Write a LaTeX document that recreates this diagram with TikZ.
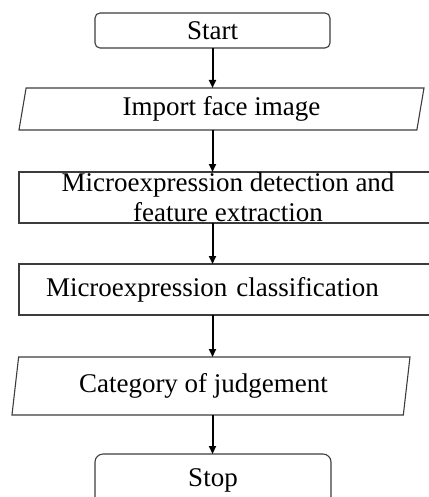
\documentclass[tikz,border=0pt]{standalone}
\usepackage{fontspec}
\setmainfont{Liberation Serif}
\usetikzlibrary{arrows.meta,positioning,shapes.geometric}

\begin{document}
\begin{tikzpicture}[
    x=1pt, y=1pt,
    font=\fontsize{27}{28}\selectfont,
    >={Triangle[width=7pt,length=8pt]},
    terminal/.style={
        draw=boxline,
        rounded corners=5pt,
        minimum width=235pt,
        minimum height=35pt,
        inner sep=0pt,
        outer sep=0pt,
        line width=1.1pt
    },
    iobox/.style={
        draw=boxline,
        trapezium,
        trapezium stretches body,
        trapezium left angle=74,
        trapezium right angle=106,
        minimum width=405pt,
        minimum height=42pt,
        inner sep=0pt,
        outer sep=0pt,
        line width=1.1pt
    },
    procbox/.style={
        draw=boxline,
        minimum width=418pt,
        minimum height=51pt,
        inner sep=0pt,
        outer sep=0pt,
        align=center,
        line width=1.1pt
    },
    flow/.style={->, line width=2pt}
]

\definecolor{boxline}{RGB}{60,60,60}

\useasboundingbox (0,0) rectangle (428,-497);

\node[terminal] (start) at (212.5,-30.5) {Start};

\node[iobox, below=40pt of start, xshift=9pt] (import) {Import face image};

% text is taller than the box, as in the original
\node[procbox, below=42pt of import, xshift=6.5pt, font=\fontsize{27}{30}\selectfont,
      inner ysep=-7pt] (detect) {Microexpression detection and\\feature extraction};

\node[procbox, below=41pt of detect, text width=364pt, align=left] (classify) {Microexpression classification};

\node[iobox, below=42pt of classify, xshift=-17pt, minimum width=398pt, minimum height=58pt,
      trapezium left angle=75, trapezium right angle=105] (judge) {\hspace*{-15pt}Category of judgement};

\node[terminal, below=39pt of judge, xshift=2pt, minimum width=236pt, minimum height=52pt,
      rounded corners=8pt] (stop) {Stop};

\draw[flow] (start) -- (start |- import.north);
\draw[flow] (import.south -| start) -- (start |- detect.north);
\draw[flow] (detect.south -| start) -- (start |- classify.north);
\draw[flow] (classify.south -| start) -- (start |- judge.north);
\draw[flow] (judge.south -| start) -- (start |- stop.north);

\end{tikzpicture}
\end{document}
